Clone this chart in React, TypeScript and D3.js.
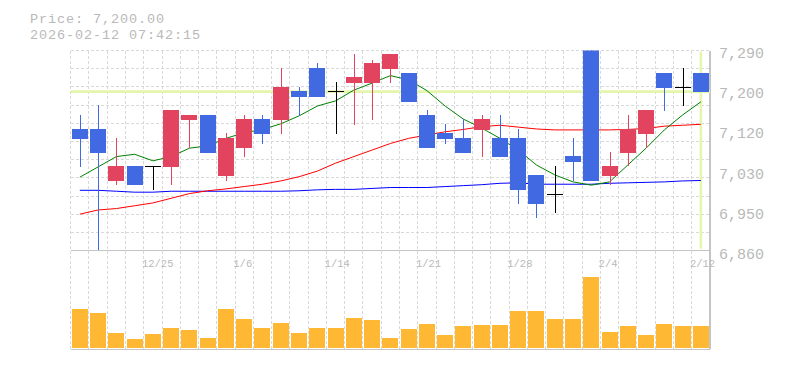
import * as d3 from "d3";

const dates = [
  "12/19", "12/22", "12/23", "12/24", "12/25", "12/26", "12/29", "12/30", "1/5", "1/6",
  "1/7", "1/8", "1/9", "1/13", "1/14", "1/15", "1/16", "1/19", "1/20", "1/21",
  "1/22", "1/23", "1/26", "1/27", "1/28", "1/29", "1/30", "2/2", "2/3", "2/4",
  "2/5", "2/6", "2/9", "2/10", "2/12",
];
const opens = [
  7119, 7119, 7009, 7041, 7040, 7039, 7139, 7150, 7019, 7080,
  7141, 7139, 7201, 7250, 7200, 7219, 7219, 7249, 7240, 7150,
  7111, 7101, 7118, 7101, 7101, 7022, 6980, 7062, 7290, 7020,
  7069, 7110, 7240, 7208, 7240,
];
const highs = [
  7150, 7171, 7100, 7041, 7040, 7160, 7150, 7150, 7111, 7150,
  7150, 7250, 7210, 7261, 7220, 7280, 7267, 7280, 7240, 7160,
  7131, 7141, 7150, 7150, 7120, 7022, 7041, 7101, 7290, 7071,
  7150, 7160, 7240, 7250, 7240,
];
const lows = [
  7039, 6862, 7000, 7000, 6990, 7000, 7079, 7069, 7009, 7061,
  7088, 7109, 7148, 7189, 7110, 7129, 7139, 7219, 7178, 7080,
  7088, 7069, 7061, 7061, 6960, 6930, 6941, 7009, 7009, 7000,
  7041, 7080, 7159, 7170, 7200,
];
const closes = [
  7098, 7069, 7041, 7000, 7040, 7160, 7150, 7069, 7101, 7141,
  7110, 7210, 7189, 7189, 7200, 7231, 7261, 7280, 7178, 7080,
  7099, 7069, 7141, 7061, 6990, 6960, 6980, 7050, 7009, 7041,
  7120, 7160, 7208, 7208, 7200,
];
const volumes = [
  39000, 35000, 15000, 9000, 14000, 20000, 18000, 10000, 39000, 29000,
  20000, 25000, 15000, 20000, 20000, 30000, 28000, 10000, 19000, 24000,
  13000, 22000, 23000, 23000, 37000, 37000, 29000, 29000, 71000, 16000,
  22000, 13000, 24000, 22000, 22000,
];
// moving averages (5, 25, 75 days)
const ma5 = [
  7017, 7039, 7061, 7066, 7052, 7061, 7079, 7084, 7100, 7112,
  7119, 7131, 7148, 7169, 7180, 7203, 7218, 7234, 7225, 7202,
  7169, 7141, 7122, 7100, 7075, 7043, 7022, 7007, 7000, 7007,
  7043, 7079, 7118, 7150, 7178,
];
const ma25 = [
  6938, 6947, 6950, 6956, 6962, 6972, 6982, 6988, 6992, 6997,
  7002, 7009, 7018, 7030, 7047, 7061, 7075, 7089, 7100, 7107,
  7114, 7119, 7125, 7128, 7124, 7120, 7118, 7118, 7118, 7118,
  7119, 7121, 7126, 7128, 7130,
];
const ma75 = [
  6989, 6989, 6987, 6985, 6985, 6987, 6987, 6987, 6987, 6987,
  6987, 6987, 6988, 6990, 6991, 6991, 6993, 6995, 6995, 6995,
  6997, 6999, 7001, 7004, 7005, 7002, 7002, 7002, 7002, 7004,
  7005, 7006, 7007, 7009, 7010,
];
const priceTicks = [6860, 6946, 7032, 7118, 7204, 7290];
const dateLabels = ["12/25", "1/6", "1/14", "1/21", "1/28", "2/4", "2/12"];
const cursorPrice = 7200;
const cursorDate = "2/12";

const W = 785;
const H = 370;
const left = 70.7;
const right = 710;
const priceTop = 50.5;
const priceBottom = 250.7;
const volTop = 250.7;
const volBottom = 349.3;
const mono = "'Liberation Mono', 'DejaVu Sans Mono', monospace";
const grid = "#d9d9d9";
const border = "#c4c4c4";
const textCol = "#b9b9b9";
const upCol = "#e2435f";
const downCol = "#4169e1";

const App = () => {
  const x = d3.scaleBand<string>().domain(dates).range([left, right]).padding(0);
  const bw = x.bandwidth();
  const y = d3.scaleLinear().domain([6860, 7290]).range([priceBottom, 49.4]);
  const yv = d3.scaleLinear().domain([0, 97000]).range([348, volTop]);
  const fmt = d3.format(",");

  const line = d3
    .line<number>()
    .x((_, i) => (x(dates[i]) || 0) + bw / 2)
    .y((d) => y(d));

  const hGrid = d3.range(12).map((k) => priceTop + (k * (priceBottom - priceTop)) / 11);
  const vGrid = dates.map((d) => x(d) || 0);
  const cx = (x(cursorDate) || 0) + bw / 2;

  return (
    <svg
      width={W}
      height={H}
      style={{ position: "absolute", left: 0, top: 0, background: "#fff" }}
    >
      <defs>
        <clipPath id="pclip">
          <rect x={left} y={priceTop} width={right - left} height={priceBottom - priceTop} />
        </clipPath>
      </defs>
      <g fontFamily={mono} fontSize={13.5} letterSpacing={0.9} fill={textCol}>
        <text x={30} y={23}>
          Price: {d3.format(",.2f")(cursorPrice)}
        </text>
        <text x={30} y={38.5}>
          2026-02-12 07:42:15
        </text>
      </g>

      {/* grid */}
      <g stroke={grid} strokeWidth={1} strokeDasharray="3,2" shapeRendering="crispEdges">
        {hGrid.slice(0, 11).map((gy, i) => (
          <line key={"h" + i} x1={left} x2={right} y1={gy} y2={gy} />
        ))}
        {vGrid.map((gx, i) => (
          <line key={"v" + i} x1={gx} x2={gx} y1={priceTop} y2={volBottom} />
        ))}
      </g>
      <g stroke={border} strokeWidth={1.3} shapeRendering="crispEdges">
        <line x1={left} x2={right} y1={priceBottom} y2={priceBottom} />
        <line x1={left} x2={right} y1={volBottom} y2={volBottom} />
        <line x1={right} x2={right} y1={priceTop} y2={volBottom} />
      </g>

      {/* cursor */}
      <g stroke="#e4f5ac">
        <line x1={left} x2={right} y1={y(cursorPrice)} y2={y(cursorPrice)} strokeWidth={2.7} />
        <line x1={cx} x2={cx} y1={priceTop + 1} y2={priceBottom - 2} strokeWidth={2.5} />
      </g>

      {/* moving averages */}
      <g fill="none" strokeWidth={1} clipPath="url(#pclip)">
        <path d={line(ma75) || ""} stroke="#0000ff" />
        <path d={line(ma25) || ""} stroke="#ff0000" />
        <path d={line(ma5) || ""} stroke="#008000" />
      </g>

      {/* candles */}
      <g clipPath="url(#pclip)" shapeRendering="crispEdges">
        {dates.map((d, i) => {
          const o = opens[i];
          const c = closes[i];
          const col = c > o ? upCol : c < o ? downCol : "#000";
          const mx = Math.round((x(d) || 0) + bw / 2) + 0.5;
          const bx = (x(d) || 0) + (bw - 16) / 2;
          return (
            <g key={d}>
              <line x1={mx} x2={mx} y1={y(highs[i])} y2={y(lows[i])} stroke={col} strokeWidth={1} />
              {c === o ? (
                <line x1={bx} x2={bx + 16} y1={y(o)} y2={y(o)} stroke={col} strokeWidth={1} />
              ) : (
                <rect
                  x={bx}
                  width={16}
                  y={y(Math.max(o, c))}
                  height={Math.abs(y(o) - y(c))}
                  fill={col}
                />
              )}
            </g>
          );
        })}
      </g>

      {/* volume */}
      <g fill="#ffb833" shapeRendering="crispEdges">
        {dates.map((d, i) => (
          <rect
            key={d}
            x={(x(d) || 0) + (bw - 16) / 2}
            width={16}
            y={yv(volumes[i])}
            height={yv(0) - yv(volumes[i])}
          />
        ))}
      </g>

      {/* axes text */}
      <g fontFamily={mono} fontSize={15} fill={textCol}>
        {priceTicks.map((t) => (
          <text key={t} x={719} y={y(t) + 8.5}>
            {fmt(Math.round(t / 10) * 10)}
          </text>
        ))}
      </g>
      <g fontFamily={mono} fontSize={10.5} fill={textCol}>
        {dateLabels.map((d) => (
          <text key={d} x={(x(d) || 0) - 1.8} y={266.5}>
            {d}
          </text>
        ))}
      </g>
    </svg>
  );
};

export default App;
